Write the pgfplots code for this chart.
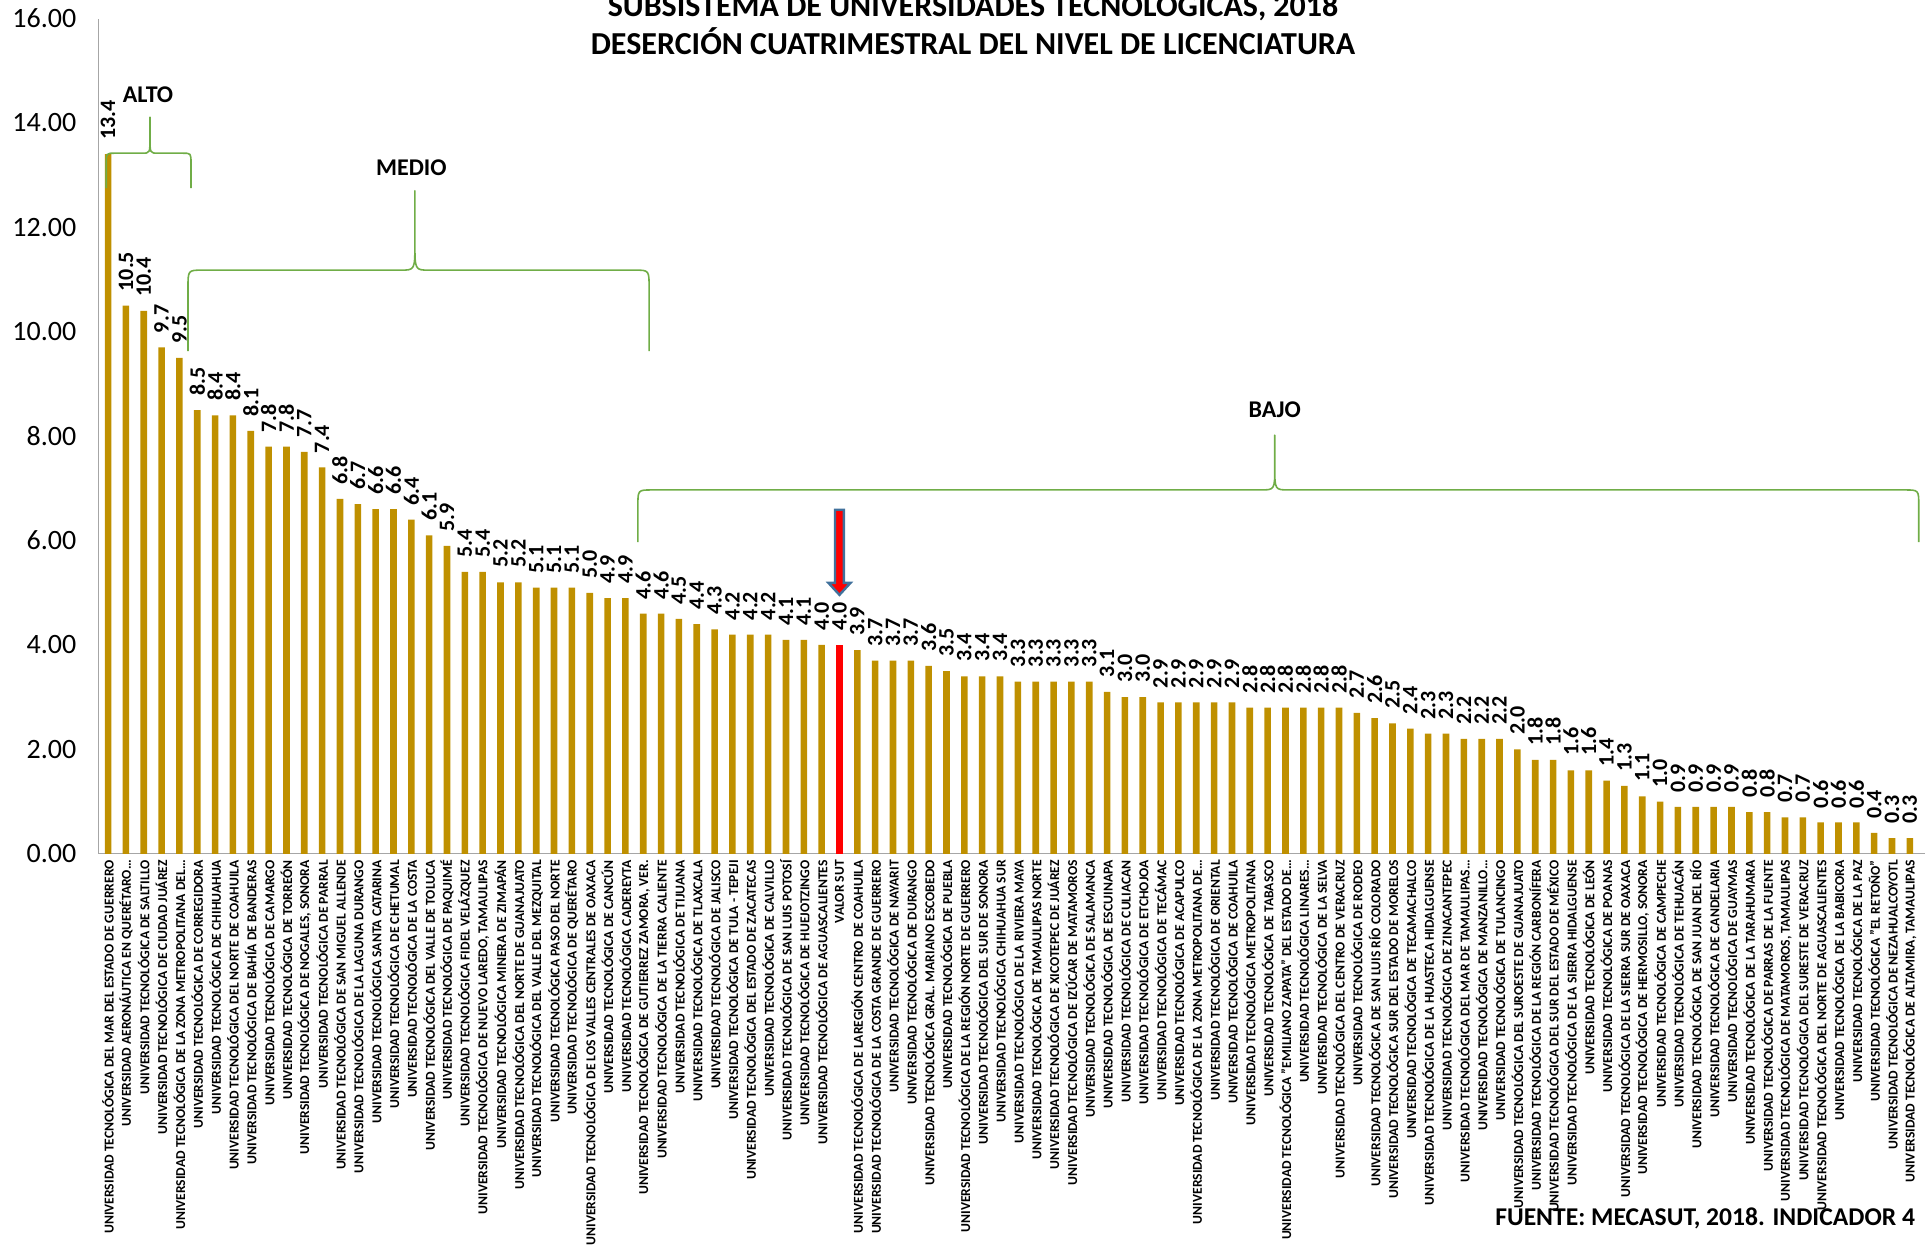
\documentclass[border=0pt]{standalone}
\usepackage{fontspec}
\setmainfont{Carlito}
\usepackage{pgfplots}
\pgfplotsset{compat=1.18}

\definecolor{barra}{RGB}{191,144,0}
\definecolor{llave}{RGB}{112,173,71}
\definecolor{eje}{RGB}{166,166,166}
\definecolor{flecha}{RGB}{65,113,156}

% llave: xl, xr, xp, y horizontal, y de los extremos, y del pico, dx, dy
\newcommand{\llave}[8]{%
  \draw[llave, line width=0.8pt, line join=round]
    (axis cs:#1,#5) -- (axis cs:#1,#4-#8) .. controls (axis cs:#1,#4) .. (axis cs:#1+#7,#4)
    -- (axis cs:#3-#7,#4) .. controls (axis cs:#3,#4) .. (axis cs:#3,#4+1.5*#8) -- (axis cs:#3,#6)
    -- (axis cs:#3,#4+1.5*#8) .. controls (axis cs:#3,#4) .. (axis cs:#3+#7,#4)
    -- (axis cs:#2-#7,#4) .. controls (axis cs:#2,#4) .. (axis cs:#2,#4-#8) -- (axis cs:#2,#5);}

\begin{document}
\begin{tikzpicture}
\begin{axis}[
  at={(0pt,0pt)}, anchor=south west,
  scale only axis, width=913.2pt, height=417.65pt,
  xmin=-0.53, xmax=101.85, ymin=0, ymax=16,
  ybar, bar width=3.3pt, bar shift=0pt,
  axis x line*=bottom, axis y line*=left,
  axis line style={eje, line width=0.6pt},
  major tick length=0pt,
  clip=false,
  /pgf/number format/assume math mode=true,
  ytick={0,2,...,16},
  y tick label style={/pgf/number format/.cd, fixed, fixed zerofill, precision=2, /tikz/.cd,
    font=\fontsize{14}{14}\selectfont, inner sep=0pt, xshift=-11pt},
  xtick={0,...,101},
  x tick label style={rotate=90, anchor=east, inner xsep=3pt, inner ysep=0pt,
    font=\bfseries\fontsize{6.8}{6.8}\selectfont},
  xticklabels={
    UNIVERSIDAD TECNOLÓGICA DEL MAR DEL ESTADO DE GUERRERO,
    UNIVERSIDAD AERONÁUTICA EN QUERÉTARO…,
    UNIVERSIDAD TECNOLÓGICA DE SALTILLO,
    UNIVERSIDAD TECNOLÓGICA DE CIUDAD JUÁREZ,
    UNIVERSIDAD TECNOLÓGICA DE LA ZONA METROPOLITANA DEL…,
    UNIVERSIDAD TECNOLÓGICA DE CORREGIDORA,
    UNIVERSIDAD TECNOLÓGICA DE CHIHUAHUA,
    UNIVERSIDAD TECNOLÓGICA DEL NORTE DE COAHUILA,
    UNIVERSIDAD TECNOLÓGICA DE BAHÍA DE BANDERAS,
    UNIVERSIDAD TECNOLÓGICA DE CAMARGO,
    UNIVERSIDAD TECNOLÓGICA DE TORREÓN,
    {UNIVERSIDAD TECNOLÓGICA DE NOGALES, SONORA},
    UNIVERSIDAD TECNOLÓGICA DE PARRAL,
    UNIVERSIDAD TECNOLÓGICA DE SAN MIGUEL ALLENDE,
    UNIVERSIDAD TECNOLÓGICA DE LA LAGUNA DURANGO,
    UNIVERSIDAD TECNOLÓGICA SANTA CATARINA,
    UNIVERSIDAD TECNOLÓGICA DE CHETUMAL,
    UNIVERSIDAD TECNOLÓGICA DE LA COSTA,
    UNIVERSIDAD TECNOLÓGICA DEL VALLE DE TOLUCA,
    UNIVERSIDAD TECNOLÓGICA DE PAQUIMÉ,
    UNIVERSIDAD TECNOLÓGICA FIDEL VELÁZQUEZ,
    {UNIVERSIDAD TECNOLÓGICA DE NUEVO LAREDO, TAMAULIPAS},
    UNIVERSIDAD TECNOLÓGICA MINERA DE ZIMAPÁN,
    UNIVERSIDAD TECNOLÓGICA DEL NORTE DE GUANAJUATO,
    UNIVERSIDAD TECNOLÓGICA DEL VALLE DEL MEZQUITAL,
    UNIVERSIDAD TECNOLÓGICA PASO DEL NORTE,
    UNIVERSIDAD TECNOLÓGICA DE QUERÉTARO,
    UNIVERSIDAD TECNOLÓGICA DE LOS VALLES CENTRALES DE OAXACA,
    UNIVERSIDAD TECNOLÓGICA DE CANCÚN,
    UNIVERSIDAD TECNOLÓGICA CADEREYTA,
    {UNIVERSIDAD TECNOLÓGICA DE GUTIERREZ ZAMORA, VER.},
    UNIVERSIDAD TECNOLÓGICA DE LA TIERRA CALIENTE,
    UNIVERSIDAD TECNOLÓGICA DE TIJUANA,
    UNIVERSIDAD TECNOLÓGICA DE TLAXCALA,
    UNIVERSIDAD TECNOLÓGICA DE JALISCO,
    UNIVERSIDAD TECNOLÓGICA DE TULA - TEPEJI,
    UNIVERSIDAD TECNOLÓGICA DEL ESTADO DE ZACATECAS,
    UNIVERSIDAD TECNOLÓGICA DE CALVILLO,
    UNIVERSIDAD TECNOLÓGICA DE SAN LUIS POTOSÍ,
    UNIVERSIDAD TECNOLÓGICA DE HUEJOTZINGO,
    UNIVERSIDAD TECNOLÓGICA DE AGUASCALIENTES,
    VALOR SUT,
    UNIVERSIDAD TECNOLÓGICA DE LAREGIÓN CENTRO DE COAHUILA,
    UNIVERSIDAD TECNOLÓGICA DE LA COSTA GRANDE DE GUERRERO,
    UNIVERSIDAD TECNOLÓGICA DE NAYARIT,
    UNIVERSIDAD TECNOLÓGICA DE DURANGO,
    UNIVERSIDAD TECNOLÓGICA GRAL. MARIANO ESCOBEDO,
    UNIVERSIDAD TECNOLÓGICA DE PUEBLA,
    UNIVERSIDAD TECNOLÓGICA DE LA REGIÓN NORTE DE GUERRERO,
    UNIVERSIDAD TECNOLÓGICA DEL SUR DE SONORA,
    UNIVERSIDAD TECNOLÓGICA CHIHUAHUA SUR,
    UNIVERSIDAD TECNOLÓGICA DE LA RIVIERA MAYA,
    UNIVERSIDAD TECNOLÓGICA DE TAMAULIPAS NORTE,
    UNIVERSIDAD TECNOLÓGICA DE XICOTEPEC DE JUÁREZ,
    UNIVERSIDAD TECNOLÓGICA DE IZÚCAR DE MATAMOROS,
    UNIVERSIDAD TECNOLÓGICA DE SALAMANCA,
    UNIVERSIDAD TECNOLÓGICA DE ESCUINAPA,
    UNIVERSIDAD TECNOLÓGICA DE CULIACAN,
    UNIVERSIDAD TECNOLÓGICA DE ETCHOJOA,
    UNIVERSIDAD TECNOLÓGICA DE TECÁMAC,
    UNIVERSIDAD TECNOLÓGICA DE ACAPULCO,
    UNIVERSIDAD TECNOLÓGICA DE LA ZONA METROPOLITANA DE…,
    UNIVERSIDAD TECNOLÓGICA DE ORIENTAL,
    UNIVERSIDAD TECNOLÓGICA DE COAHUILA,
    UNIVERSIDAD TECNOLÓGICA METROPOLITANA,
    UNIVERSIDAD TECNOLÓGICA DE TABASCO,
    UNIVERSIDAD TECNOLÓGICA "EMILIANO ZAPATA" DEL ESTADO DE…,
    UNIVERSIDAD TECNOLÓGICA LINARES…,
    UNIVERSIDAD TECNOLÓGICA DE LA SELVA,
    UNIVERSIDAD TECNOLÓGICA DEL CENTRO DE VERACRUZ,
    UNIVERSIDAD TECNOLÓGICA DE RODEO,
    UNIVERSIDAD TECNOLÓGICA DE SAN LUIS RÍO COLORADO,
    UNIVERSIDAD TECNOLÓGICA SUR DEL ESTADO DE MORELOS,
    UNIVERSIDAD TECNOLÓGICA DE TECAMACHALCO,
    UNIVERSIDAD TECNOLÓGICA DE LA HUASTECA HIDALGUENSE,
    UNIVERSIDAD TECNOLÓGICA DE ZINACANTEPEC,
    UNIVERSIDAD TECNOLÓGICA DEL MAR DE TAMAULIPAS…,
    UNIVERSIDAD TECNOLÓGICA DE MANZANILLO…,
    UNIVERSIDAD TECNOLÓGICA DE TULANCINGO,
    UNIVERSIDAD TECNOLÓGICA DEL SUROESTE DE GUANAJUATO,
    UNIVERSIDAD TECNOLÓGICA DE LA REGIÓN CARBONÍFERA,
    UNIVERSIDAD TECNOLÓGICA DEL SUR DEL ESTADO DE MÉXICO,
    UNIVERSIDAD TECNOLÓGICA DE LA SIERRA HIDALGUENSE,
    UNIVERSIDAD TECNOLÓGICA DE LEÓN,
    UNIVERSIDAD TECNOLÓGICA DE POANAS,
    UNIVERSIDAD TECNOLÓGICA DE LA SIERRA SUR DE OAXACA,
    {UNIVERSIDAD TECNOLÓGICA DE HERMOSILLO, SONORA},
    UNIVERSIDAD TECNOLÓGICA DE CAMPECHE,
    UNIVERSIDAD TECNOLÓGICA DE TEHUACÁN,
    UNIVERSIDAD TECNOLÓGICA DE SAN JUAN DEL RÍO,
    UNIVERSIDAD TECNOLÓGICA DE CANDELARIA,
    UNIVERSIDAD TECNOLÓGICA DE GUAYMAS,
    UNIVERSIDAD TECNOLÓGICA DE LA TARAHUMARA,
    UNIVERSIDAD TECNOLÓGICA DE PARRAS DE LA FUENTE,
    {UNIVERSIDAD TECNOLÓGICA DE MATAMOROS, TAMAULIPAS},
    UNIVERSIDAD TECNOLÓGICA DEL SURESTE DE VERACRUZ,
    UNIVERSIDAD TECNOLÓGICA DEL NORTE DE AGUASCALIENTES,
    UNIVERSIDAD TECNOLÓGICA DE LA BABICORA,
    UNIVERSIDAD TECNOLÓGICA DE LA PAZ,
    UNIVERSIDAD TECNOLÓGICA "EL RETOÑO",
    UNIVERSIDAD TECNOLÓGICA DE NEZAHUALCOYOTL,
    {UNIVERSIDAD TECNOLÓGICA DE ALTAMIRA, TAMAULIPAS}},
  nodes near coords={\pgfmathprintnumber[fixed,fixed zerofill,precision=1]{\pgfplotspointmeta}},
  nodes near coords style={rotate=90, anchor=west, inner xsep=7pt, inner ysep=0pt,
    font=\bfseries\fontsize{11}{11}\selectfont, text=black},
]
\addplot[fill=barra, draw=none] table {
x y
0 13.4
1 10.5
2 10.4
3 9.7
4 9.5
5 8.5
6 8.4
7 8.4
8 8.1
9 7.8
10 7.8
11 7.7
12 7.4
13 6.8
14 6.7
15 6.6
16 6.6
17 6.4
18 6.1
19 5.9
20 5.4
21 5.4
22 5.2
23 5.2
24 5.1
25 5.1
26 5.1
27 5.0
28 4.9
29 4.9
30 4.6
31 4.6
32 4.5
33 4.4
34 4.3
35 4.2
36 4.2
37 4.2
38 4.1
39 4.1
40 4.0
42 3.9
43 3.7
44 3.7
45 3.7
46 3.6
47 3.5
48 3.4
49 3.4
50 3.4
51 3.3
52 3.3
53 3.3
54 3.3
55 3.3
56 3.1
57 3.0
58 3.0
59 2.9
60 2.9
61 2.9
62 2.9
63 2.9
64 2.8
65 2.8
66 2.8
67 2.8
68 2.8
69 2.8
70 2.7
71 2.6
72 2.5
73 2.4
74 2.3
75 2.3
76 2.2
77 2.2
78 2.2
79 2.0
80 1.8
81 1.8
82 1.6
83 1.6
84 1.4
85 1.3
86 1.1
87 1.0
88 0.9
89 0.9
90 0.9
91 0.9
92 0.8
93 0.8
94 0.7
95 0.7
96 0.6
97 0.6
98 0.6
99 0.4
100 0.3
101 0.3
};
\addplot[fill=red, draw=none] table {
x y
41 4.0
};
% llaves ALTO, MEDIO, BAJO
\llave{-0.1}{4.65}{2.35}{13.42}{12.75}{14.11}{0.45}{0.2}
\llave{4.48}{30.33}{17.2}{11.18}{9.63}{12.70}{0.8}{0.35}
\llave{29.7}{101.5}{65.4}{6.97}{5.97}{8.02}{0.8}{0.3}
\node[font=\bfseries\fontsize{12}{12}\selectfont] at (axis cs:2.24,14.54) {ALTO};
\node[font=\bfseries\fontsize{12}{12}\selectfont] at (axis cs:17.0,13.15) {MEDIO};
\node[font=\bfseries\fontsize{12}{12}\selectfont] at (axis cs:65.4,8.5) {BAJO};
% flecha sobre VALOR SUT
\filldraw[fill=red, draw=flecha, line width=1.2pt, line join=miter]
  (axis cs:40.75,6.59) -- (axis cs:41.25,6.59) -- (axis cs:41.25,5.19) -- (axis cs:41.62,5.19)
  -- (axis cs:41,4.96) -- (axis cs:40.38,5.19) -- (axis cs:40.75,5.19) -- cycle;
\end{axis}
\node[anchor=base, font=\bfseries\fontsize{16}{16}\selectfont] at (437.2pt,418.4pt)
  {SUBSISTEMA DE UNIVERSIDADES TECNOLÓGICAS, 2018};
\node[anchor=base, font=\bfseries\fontsize{16}{16}\selectfont] at (437.2pt,399.4pt)
  {DESERCIÓN CUATRIMESTRAL DEL NIVEL DE LICENCIATURA};
\node[anchor=east, font=\bfseries\fontsize{12.8}{12.8}\selectfont] at (911.7pt,-182.1pt)
  {FUENTE: MECASUT, 2018. INDICADOR 4};
\pgfresetboundingbox
\path[use as bounding box] (-49.3pt,-195.1pt) rectangle (916.7pt,426.9pt);
\end{tikzpicture}
\end{document}
